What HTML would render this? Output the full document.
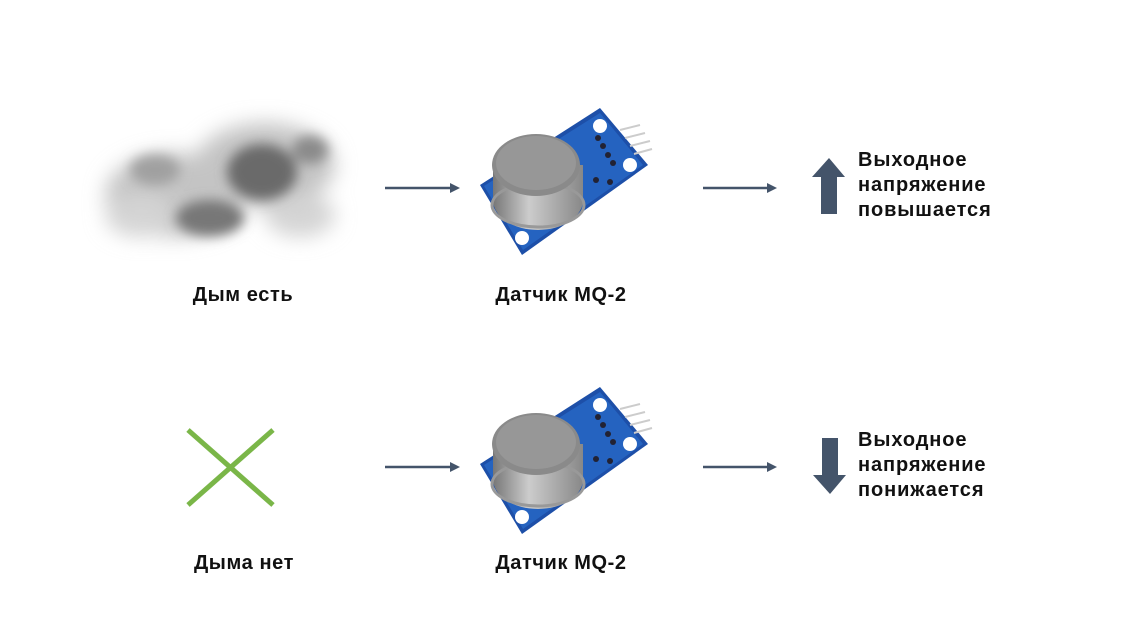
<!DOCTYPE html>
<html><head><meta charset="utf-8"><style>
body{margin:0;background:#fff;width:1124px;height:631px;overflow:hidden;position:relative;font-family:"Liberation Sans","DejaVu Sans",sans-serif}
.t{position:absolute;font-weight:bold;font-size:20px;color:#111;white-space:nowrap;letter-spacing:0.6px}
.c{transform:translateX(-50%)}
.r{line-height:25px;letter-spacing:0.9px}
</style></head><body>
<svg width="1124" height="631" style="position:absolute;left:0;top:0">
<defs>
<filter id="b1" x="-50%" y="-50%" width="200%" height="200%"><feGaussianBlur stdDeviation="10"/></filter>
<filter id="b2" x="-50%" y="-50%" width="200%" height="200%"><feGaussianBlur stdDeviation="6"/></filter>
<linearGradient id="met" x1="0" y1="0" x2="1" y2="0"><stop offset="0" stop-color="#777"/><stop offset="0.4" stop-color="#ccc"/><stop offset="1" stop-color="#888"/></linearGradient>
<g id="sensor">
<polygon points="480,185 600,108 648,165 522,255" fill="#1d4fa8"/>
<polygon points="484,186 600,113 643,165 523,250" fill="#2563c0"/>
<circle cx="600" cy="126" r="7" fill="#fff"/>
<circle cx="630" cy="165" r="7" fill="#fff"/>
<circle cx="522" cy="238" r="7" fill="#fff"/>
<g stroke="#ccc" stroke-width="2"><line x1="620" y1="130" x2="640" y2="125"/><line x1="625" y1="138" x2="645" y2="133"/><line x1="630" y1="146" x2="650" y2="141"/><line x1="634" y1="154" x2="652" y2="149"/></g>
<g fill="#223"><circle cx="598" cy="138" r="3"/><circle cx="603" cy="146" r="3"/><circle cx="608" cy="155" r="3"/><circle cx="613" cy="163" r="3"/><circle cx="596" cy="180" r="3"/><circle cx="610" cy="182" r="3"/></g>
<path d="M493,165 L493,200 A45,30 0 0 0 583,200 L583,165 Z" fill="url(#met)"/>
<ellipse cx="538" cy="205" rx="46" ry="22" fill="none" stroke="#999" stroke-width="3"/>
<ellipse cx="536" cy="165" rx="44" ry="31" fill="#8a8a8a"/>
<ellipse cx="536" cy="163" rx="40" ry="27" fill="#979797"/>
</g>
</defs>
<g filter="url(#b1)">
<ellipse cx="175" cy="195" rx="70" ry="42" fill="#c4c4c4"/>
<ellipse cx="265" cy="165" rx="70" ry="42" fill="#c4c4c4"/>
<ellipse cx="300" cy="215" rx="35" ry="22" fill="#d4d4d4"/>
<ellipse cx="140" cy="215" rx="35" ry="22" fill="#d4d4d4"/>
</g>
<g filter="url(#b2)">
<ellipse cx="262" cy="172" rx="35" ry="28" fill="#6a6a6a"/>
<ellipse cx="210" cy="218" rx="34" ry="18" fill="#777"/>
<ellipse cx="155" cy="170" rx="25" ry="15" fill="#a0a0a0"/>
<ellipse cx="310" cy="150" rx="18" ry="14" fill="#8a8a8a"/>
</g>
<use href="#sensor"/>
<use href="#sensor" transform="translate(0,279)"/>
<g stroke="#44546a" stroke-width="2.5" fill="#44546a">
<line x1="385" y1="188" x2="452" y2="188"/><polygon points="460,188 450,183 450,193" stroke="none"/>
<line x1="703" y1="188" x2="769" y2="188"/><polygon points="777,188 767,183 767,193" stroke="none"/>
<line x1="385" y1="467" x2="452" y2="467"/><polygon points="460,467 450,462 450,472" stroke="none"/>
<line x1="703" y1="467" x2="769" y2="467"/><polygon points="777,467 767,462 767,472" stroke="none"/>
</g>
<polygon fill="#44546a" points="829,158 845,177 837,177 837,214 821,214 821,177 812,177"/>
<polygon fill="#44546a" points="830,494 846,475 838,475 838,438 822,438 822,475 813,475"/>
<g stroke="#7ab648" stroke-width="5"><line x1="188" y1="430" x2="273" y2="505"/><line x1="273" y1="430" x2="188" y2="505"/></g>
</svg>
<div class="t c" style="left:243px;top:284px">Дым есть</div>
<div class="t c" style="left:561px;top:284px">Датчик MQ-2</div>
<div class="t c" style="left:244px;top:552px">Дыма нет</div>
<div class="t c" style="left:561px;top:552px">Датчик MQ-2</div>
<div class="t r" style="left:858px;top:148px">Выходное<br>напряжение<br>повышается</div>
<div class="t r" style="left:858px;top:428px">Выходное<br>напряжение<br>понижается</div>
</body></html>
